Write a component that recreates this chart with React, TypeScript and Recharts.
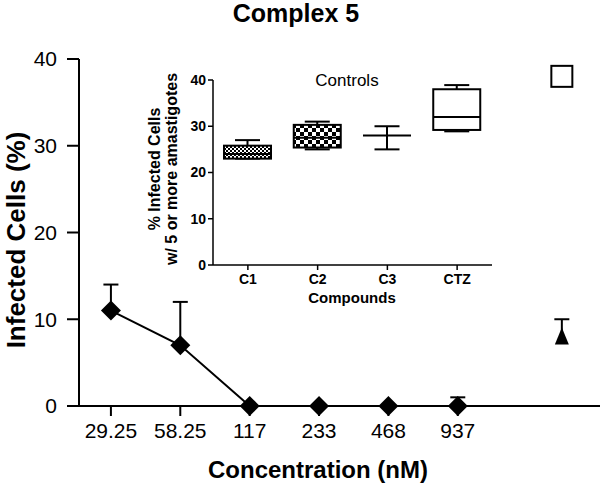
import React from 'react';
import { ComposedChart, Line, Scatter, Bar, XAxis, YAxis, ErrorBar } from 'recharts';

const FONT = '"Liberation Sans", Arial, sans-serif';

// main dose-response series
const concLabels = ['29.25', '58.25', '117', '233', '468', '937'];
const infectedPct = [11, 7, 0, 0, 0, 0];
const infectedErr = [3, 5, 0, 0, 0, 1];

// controls drawn to the right of the concentrations
const ctrlX = 7.5;
const untreatedPct = 38;
const refDrugPct = 8;
const refDrugErr = 2;

// inset box plots
const compounds = ['C1', 'C2', 'C3', 'CTZ'];
const whiskLow = [23, 25, 25, 28.9];
const boxQ1 = [23, 25.4, 28, 29.2];
const boxMed = [24, 27.5, 28, 32];
const boxQ3 = [25.8, 30.3, 28, 38];
const whiskHigh = [27, 31, 30, 38.9];
const boxKind = ['box', 'box', 'mean', 'box'];
const boxFill = ['url(#dotsFill)', 'url(#checkFill)', 'none', '#fff'];

const mainData = concLabels.map((label, i) => ({
  x: i + 1,
  label,
  y: infectedPct[i],
  err: [0, infectedErr[i]],
}));
const untreatedData = [{ x: ctrlX, y: untreatedPct }];
const refDrugData = [{ x: ctrlX, y: refDrugPct, err: [0, refDrugErr] }];
const refDrugCap = [{ x: ctrlX, y: refDrugPct + refDrugErr }];

const insetData = compounds.map((name, i) => ({
  name,
  low: whiskLow[i],
  q1: boxQ1[i],
  med: boxMed[i],
  q3: boxQ3[i],
  high: whiskHigh[i],
  kind: boxKind[i],
  fill: boxFill[i],
}));

const Diamond = ({ cx, cy }: any) => (
  <path d={`M${cx},${cy - 10}L${cx + 10},${cy}L${cx},${cy + 10}L${cx - 10},${cy}Z`} fill="#000" />
);

const OpenSquare = ({ cx, cy }: any) => (
  <rect x={cx - 10.5} y={cy - 10.5} width={21} height={21} fill="#fff" stroke="#000" strokeWidth={2} />
);

const Triangle = ({ cx, cy }: any) => (
  <path d={`M${cx},${cy - 9}L${cx + 7},${cy + 8}L${cx - 7},${cy + 8}Z`} fill="#000" />
);

const Cap = ({ cx, cy }: any) => (
  <line x1={cx - 7.5} x2={cx + 7.5} y1={cy} y2={cy} stroke="#000" strokeWidth={2} />
);

// range bar [low, high] -> whiskers, box and median
const BoxShape = (props: any) => {
  const { x, y, width, height, payload } = props;
  const top = Math.min(y, y + height);
  const bot = Math.max(y, y + height);
  const k = (bot - top) / (payload.high - payload.low);
  const py = (v: number) => top + (payload.high - v) * k;
  const cx = x + width / 2;
  const cap = 12.5;

  if (payload.kind === 'mean') {
    return (
      <g stroke="#000" strokeWidth={2}>
        <line x1={cx} x2={cx} y1={py(payload.high)} y2={py(payload.low)} />
        <line x1={cx - cap} x2={cx + cap} y1={py(payload.high)} y2={py(payload.high)} />
        <line x1={cx - cap} x2={cx + cap} y1={py(payload.low)} y2={py(payload.low)} />
        <line x1={cx - 24} x2={cx + 24} y1={py(payload.med)} y2={py(payload.med)} />
      </g>
    );
  }

  return (
    <g stroke="#000" strokeWidth={2}>
      <line x1={cx} x2={cx} y1={py(payload.high)} y2={py(payload.q3)} />
      <line x1={cx - cap} x2={cx + cap} y1={py(payload.high)} y2={py(payload.high)} />
      <line x1={cx} x2={cx} y1={py(payload.q1)} y2={py(payload.low)} />
      <line x1={cx - cap} x2={cx + cap} y1={py(payload.low)} y2={py(payload.low)} />
      <rect x={x} y={py(payload.q3)} width={width} height={py(payload.q1) - py(payload.q3)} fill={payload.fill} />
      <line x1={x} x2={x + width} y1={py(payload.med)} y2={py(payload.med)} />
    </g>
  );
};

const App: React.FC = () => {
  const axisStyle = { stroke: '#000', strokeWidth: 2 };
  const insetAxis = { stroke: '#000', strokeWidth: 1.5 };
  const insetTick = { fill: '#000', fontSize: 14, fontWeight: 'bold', fontFamily: FONT };

  return (
    <div style={{ position: 'absolute', left: 0, top: 0, width: 600, height: 486, background: '#fff', fontFamily: FONT }}>
      <svg width={0} height={0} style={{ position: 'absolute' }}>
        <defs>
          <pattern id="dotsFill" width={4} height={4} patternUnits="userSpaceOnUse">
            <rect width={4} height={4} fill="#fff" />
            <rect width={2} height={2} fill="#000" />
            <rect x={2} y={2} width={2} height={2} fill="#000" />
          </pattern>
          <pattern id="checkFill" width={8} height={8} patternUnits="userSpaceOnUse">
            <rect width={8} height={8} fill="#fff" />
            <rect width={4} height={4} fill="#000" />
            <rect x={4} y={4} width={4} height={4} fill="#000" />
          </pattern>
        </defs>
      </svg>

      <div style={{ position: 'absolute', left: 0, top: 0 }}>
        <ComposedChart width={600} height={486} margin={{ top: 59, right: 0, bottom: 0, left: 0 }}>
          <XAxis
            type="number"
            dataKey="x"
            domain={[0.54, 8.05]}
            ticks={[1, 2, 3, 4, 5, 6]}
            tickFormatter={(v: number) => concLabels[v - 1]}
            height={80}
            tickSize={10}
            tickMargin={7}
            axisLine={axisStyle}
            tickLine={axisStyle}
            tick={{ fill: '#000', fontSize: 21, fontFamily: FONT }}
          />
          <YAxis
            type="number"
            domain={[0, 40]}
            ticks={[0, 10, 20, 30, 40]}
            width={79}
            tickSize={12}
            tickMargin={10}
            axisLine={axisStyle}
            tickLine={axisStyle}
            tick={{ fill: '#000', fontSize: 21, fontFamily: FONT }}
          />
          <Line
            data={mainData}
            dataKey="y"
            stroke="#000"
            strokeWidth={2}
            dot={(p: any) => <Diamond key={p.index} cx={p.cx} cy={p.cy} />}
            activeDot={false}
            isAnimationActive={false}
          >
            <ErrorBar dataKey="err" width={7.5} stroke="#000" strokeWidth={2} direction="y" />
          </Line>
          <Scatter data={untreatedData} dataKey="y" shape={OpenSquare} isAnimationActive={false} />
          <Scatter data={refDrugData} dataKey="y" shape={Triangle} isAnimationActive={false}>
            <ErrorBar dataKey="err" width={0} stroke="#000" strokeWidth={2} direction="y" />
          </Scatter>
          <Scatter data={refDrugCap} dataKey="y" shape={Cap} isAnimationActive={false} />
        </ComposedChart>
      </div>

      <div style={{ position: 'absolute', left: 140, top: 60 }}>
        <ComposedChart width={360} height={250} data={insetData} margin={{ top: 20, right: 8, bottom: 0, left: 0 }}>
          <XAxis
            dataKey="name"
            height={45}
            tickSize={5}
            tickMargin={4}
            axisLine={insetAxis}
            tickLine={insetAxis}
            tick={insetTick}
          />
          <YAxis
            type="number"
            domain={[0, 40]}
            ticks={[0, 10, 20, 30, 40]}
            width={73}
            tickSize={5}
            tickMargin={2}
            axisLine={insetAxis}
            tickLine={insetAxis}
            tick={insetTick}
          />
          <Bar
            dataKey={(d: any) => [d.low, d.high]}
            barSize={47}
            shape={BoxShape}
            isAnimationActive={false}
          />
        </ComposedChart>
      </div>

      <svg width={600} height={486} style={{ position: 'absolute', left: 0, top: 0, pointerEvents: 'none' }}>
        <g fontFamily={FONT} fill="#000">
          <text x={296} y={22} textAnchor="middle" fontSize={25} fontWeight="bold">Complex 5</text>
          <text x={25} y={240} textAnchor="middle" fontSize={26} fontWeight="bold" transform="rotate(-90, 25, 240)">
            Infected Cells (%)
          </text>
          <text x={318} y={478} textAnchor="middle" fontSize={24} fontWeight="bold">Concentration (nM)</text>
          <text x={347} y={86} textAnchor="middle" fontSize={17}>Controls</text>
          <text x={352} y={303} textAnchor="middle" fontSize={15} fontWeight="bold">Compounds</text>
          <text x={160} y={169} textAnchor="middle" fontSize={16} fontWeight="bold" transform="rotate(-90, 160, 169)">
            % Infected Cells
          </text>
          <text x={177} y={169} textAnchor="middle" fontSize={16} fontWeight="bold" transform="rotate(-90, 177, 169)">
            w/ 5 or more amastigotes
          </text>
        </g>
      </svg>
    </div>
  );
};

export default App;
